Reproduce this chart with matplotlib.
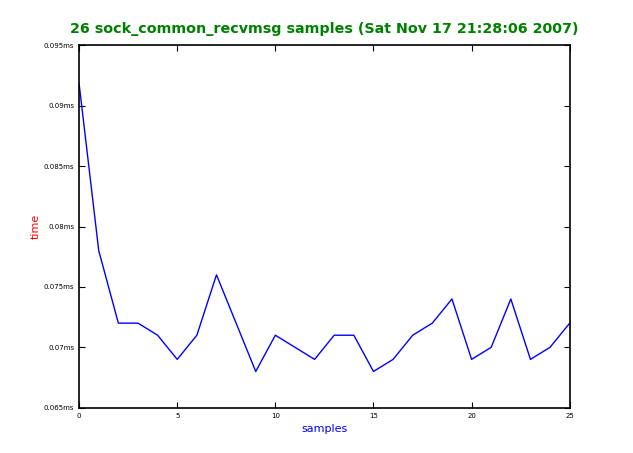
import matplotlib
matplotlib.use('Agg')
from matplotlib import pyplot as plt
from matplotlib.ticker import FuncFormatter

samples = list(range(26))
times = [0.0918, 0.078, 0.072, 0.072, 0.071, 0.069, 0.071, 0.076, 0.072, 0.068,
         0.071, 0.070, 0.069, 0.071, 0.071, 0.068, 0.069, 0.071, 0.072, 0.074,
         0.069, 0.070, 0.074, 0.069, 0.070, 0.072]
y_ticks = [0.065, 0.07, 0.075, 0.08, 0.085, 0.09, 0.095]
x_ticks = [0, 5, 10, 15, 20, 25]

fig = plt.figure(figsize=(6.33, 4.53), dpi=100)
ax = fig.add_axes([0.125, 0.1, 0.775, 0.8])
ax.plot(samples, times, c='blue', lw=1)

ax.set_xlim(0, 25)
ax.set_ylim(0.065, 0.095)
ax.set_xticks(x_ticks)
ax.set_yticks(y_ticks)
ax.yaxis.set_major_formatter(FuncFormatter(lambda v, p: ('%g' % v) + 'ms'))

ax.set_title('26 sock_common_recvmsg samples (Sat Nov 17 21:28:06 2007)',
             color='green', fontsize=10.3, fontweight='bold', pad=9)
ax.set_xlabel('samples', color='blue', fontsize=8)
ax.set_ylabel('time', color='red', fontsize=8, labelpad=2)
ax.tick_params(axis='both', which='major', labelsize=5, direction='in',
               length=4, top=True, right=True)
for s in ax.spines.values():
    s.set_linewidth(1.2)

fig.savefig('out.png', dpi=100)
